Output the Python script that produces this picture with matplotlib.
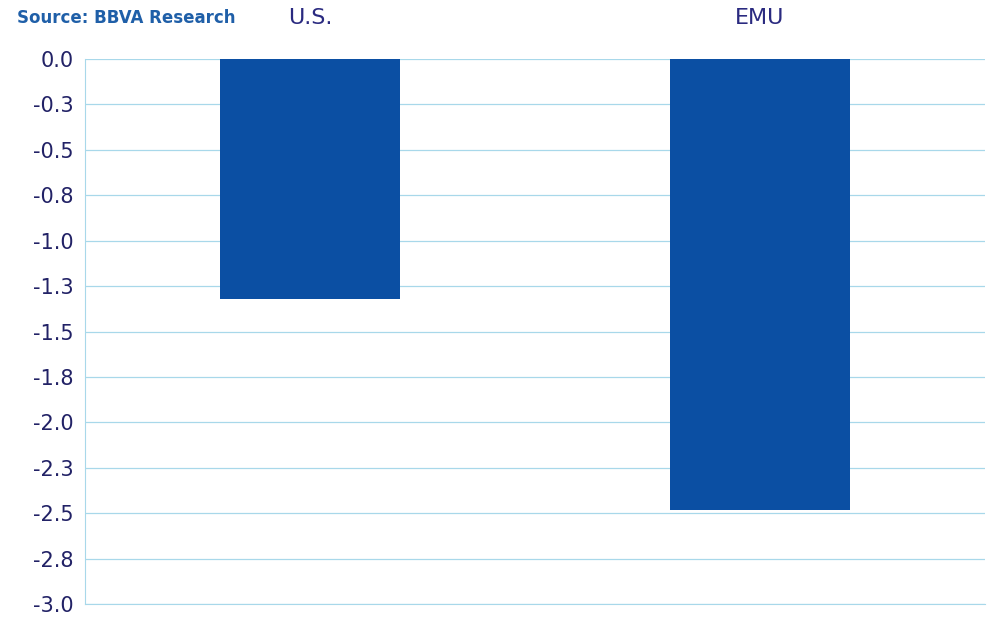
import numpy as np
import matplotlib.pyplot as plt

categories = ["U.S.", "EMU"]
values = [-1.32, -2.48]
ticks = np.arange(0, -3.01, -0.25)
tick_labels = ["0.0", "-0.3", "-0.5", "-0.8", "-1.0", "-1.3", "-1.5", "-1.8",
               "-2.0", "-2.3", "-2.5", "-2.8", "-3.0"]

fig = plt.figure(figsize=(9.9, 6.17), dpi=100)
ax = fig.add_axes([85/990, 1 - 604/617, 900/990, 545/617])
ax.bar(range(len(categories)), values, width=0.4, color="#0b4fa3", zorder=3)
ax.set_xlim(-0.5, 1.5)
ax.set_ylim(-3.0, 0.0)
ax.set_yticks(ticks)
ax.set_yticklabels(tick_labels, fontsize=15, color="#222266")
ax.set_xticks(range(len(categories)))
ax.set_xticklabels(categories, fontsize=16, color="#2a2a80")
ax.xaxis.tick_top()
ax.tick_params(axis="x", length=0, pad=22)
ax.tick_params(axis="y", length=0, pad=8)
ax.grid(axis="y", color="#a8d8ea", linewidth=0.9, zorder=0)
for s in ["top", "right"]:
    ax.spines[s].set_visible(False)
ax.spines["bottom"].set_color("#a8d8ea")
ax.spines["left"].set_color("#a8d8ea")
fig.text(17/990, 1 - 18/617, "Source: BBVA Research", fontsize=12,
         color="#1f5fa8", va="center", ha="left", fontweight="semibold")
fig.savefig("out.png", dpi=100)
